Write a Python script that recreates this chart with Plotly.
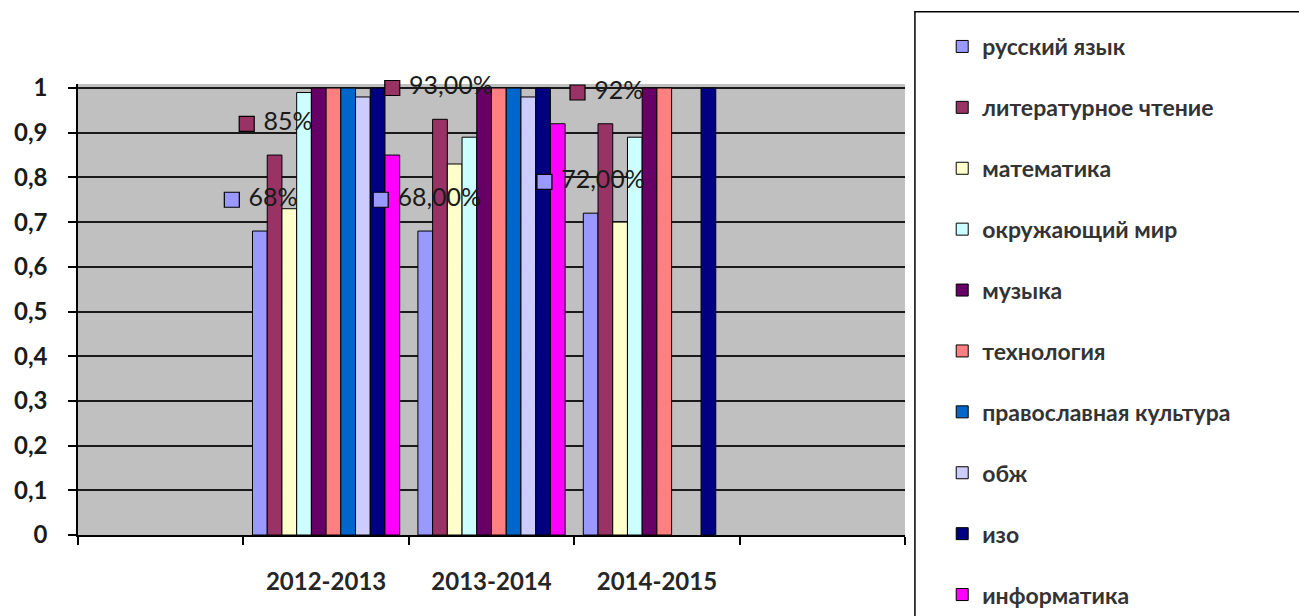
import plotly.graph_objects as go

# ---- data ----
years = ["2012-2013", "2013-2014", "2014-2015"]
subjects = ["русский язык", "литературное чтение", "математика", "окружающий мир",
            "музыка", "технология", "православная культура", "обж", "изо", "информатика"]
values = {
    "русский язык":          [0.68, 0.68, 0.72],
    "литературное чтение":   [0.85, 0.93, 0.92],
    "математика":            [0.73, 0.83, 0.70],
    "окружающий мир":        [0.99, 0.89, 0.89],
    "музыка":                [1.00, 1.00, 1.00],
    "технология":            [1.00, 1.00, 1.00],
    "православная культура": [1.00, 1.00, None],
    "обж":                   [0.98, 0.98, None],
    "изо":                   [1.00, 1.00, 1.00],
    "информатика":           [0.85, 0.92, None],
}
colors = ["#9999FF", "#993366", "#FFFFCC", "#CCFFFF", "#660066",
          "#FF8080", "#0066CC", "#CCCCFF", "#000080", "#FF00FF"]
yticks = [0, 0.1, 0.2, 0.3, 0.4, 0.5, 0.6, 0.7, 0.8, 0.9, 1]

# data labels (series, year index, text, horizontal offset from category centre)
label_series = ["литературное чтение", "русский язык",
                "литературное чтение", "русский язык",
                "литературное чтение", "русский язык"]
label_year = [0, 0, 1, 1, 2, 2]
label_text = [" 85%", " 68%", " 93,00%", " 68,00%", " 92%", " 72,00%"]
label_dx = [-0.48, -0.57, -0.60, -0.67, -0.48, -0.68]
label_lift = 0.07

# category slots: empty, years..., empty
xpos = [1, 2, 3]

font_family = "Lato"
fig = go.Figure()

for i, s in enumerate(subjects):
    fig.add_trace(go.Bar(
        x=xpos, y=values[s], name=s,
        marker=dict(color=colors[i], line=dict(color="#000000", width=1)),
        legendgroup=s,
    ))

for s, yi, t, dx in zip(label_series, label_year, label_text, label_dx):
    ci = subjects.index(s)
    fig.add_trace(go.Scatter(
        x=[xpos[yi] + dx], y=[values[s][yi] + label_lift],
        mode="markers+text", text=[t], textposition="middle right",
        marker=dict(symbol="square", size=15, color=colors[ci],
                    line=dict(color="#000000", width=1.2)),
        textfont=dict(family=font_family, size=25, color="#1a1a1a"),
        showlegend=False, hoverinfo="skip", cliponaxis=False,
    ))

fig.update_layout(
    width=1299, height=616,
    margin=dict(l=78, r=394, t=84, b=81),
    paper_bgcolor="white",
    plot_bgcolor="#C0C0C0",
    barmode="group", bargap=0.11, bargroupgap=0,
    separators=", ",
    font=dict(family=font_family, size=17, color="#262626"),
    legend=dict(
        x=1.045, y=1.121, xanchor="left", yanchor="top",
        font=dict(family=font_family, size=23, color="#333333", weight="bold"),
        tracegroupgap=28, itemwidth=30, maxheight=800,
        bgcolor="rgba(0,0,0,0)",
    ),
    showlegend=True,
    shapes=[
        dict(type="rect", xref="paper", yref="paper", x0=1.012, x1=2.0,
             y0=-1.0, y1=1.160, line=dict(color="#000000", width=1.5),
             fillcolor="rgba(0,0,0,0)", layer="below"),
    ],
)

fig.update_xaxes(
    range=[-0.5, 4.5],
    tickvals=xpos, ticktext=years,
    ticks="", showgrid=False, zeroline=False,
    showline=True, linecolor="#000000", linewidth=1.5,
    tickfont=dict(family=font_family, size=24, color="#262626", weight="bold"),
    ticklabelstandoff=24,
    minor=dict(tick0=-0.5, dtick=1, ticks="outside", ticklen=8,
               tickcolor="#000000", tickwidth=1.5, showgrid=False),
)
fig.update_yaxes(
    range=[0, 1.009],
    tickvals=yticks, tickformat=".1~f",
    ticks="outside", ticklen=8, tickcolor="#000000", tickwidth=1.5,
    showgrid=True, gridcolor="#1a1a1a", gridwidth=1.5,
    zeroline=False, showline=True, linecolor="#000000", linewidth=1.5,
    ticklabelstandoff=16,
    tickfont=dict(family=font_family, size=24, color="#1a1a1a", weight="bold"),
)

fig.write_html("out.html", config={"displayModeBar": False},
               post_script="document.body.style.margin='0';")
